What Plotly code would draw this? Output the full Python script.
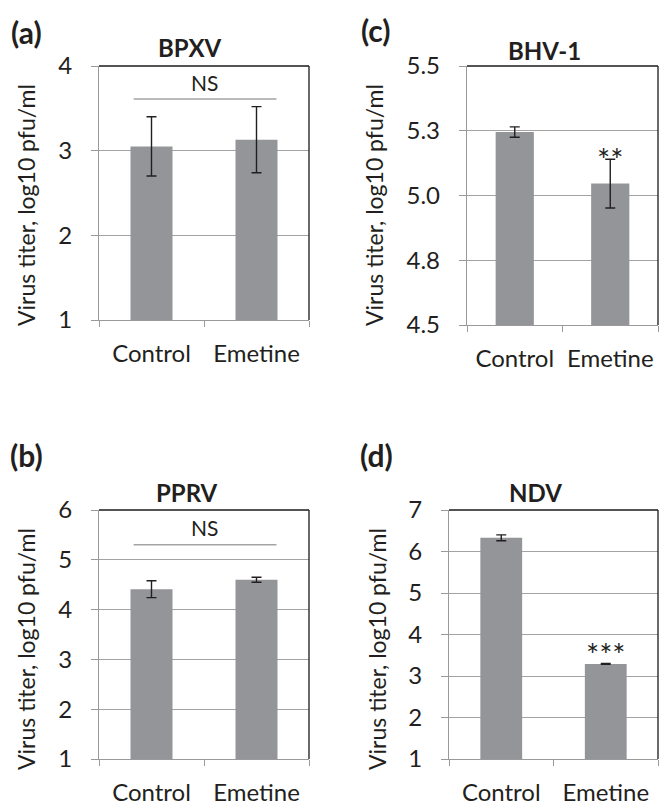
import plotly.graph_objects as go

# ---------------- data ----------------
categories = ["Control", "Emetine"]

bpxv_values = [3.05, 3.13]
bpxv_errors = [0.35, 0.39]

bhv_values = [5.245, 5.046]
bhv_errors = [0.02, 0.094]

pprv_values = [4.41, 4.60]
pprv_errors = [0.17, 0.05]

ndv_values = [6.33, 3.29]
ndv_errors = [0.07, 0.01]

bpxv_ticks = [1, 2, 3, 4]
bhv_ticks = [4.5, 4.75, 5.0, 5.25, 5.5]
bhv_ticklabels = ["4.5", "4.8", "5.0", "5.3", "5.5"]
pprv_ticks = [1, 2, 3, 4, 5, 6]
ndv_ticks = [1, 2, 3, 4, 5, 6, 7]

y_title = "Virus titer, log10 pfu/ml"

# ---------------- style ----------------
W, H = 659, 805
FONT = "Lato"
TXT = "#231f20"
BAR = "#939598"
GRID = "#a3a3a3"
AXIS = "#9a9a9a"


def xd(px):
    return px / W


def yd(px):
    return 1 - px / H


panels = [
    dict(name="BPXV", label="(a)", values=bpxv_values, errors=bpxv_errors,
         ticks=bpxv_ticks, ticktext=[str(t) for t in bpxv_ticks], yrange=[1, 4],
         box=(99, 309, 66, 320), ytitle_x=26, ytitle_y=205,
         title_xy=(189, 47), label_xy=(26, 32), ns=3.61, ns_text=3.81, star=None),
    dict(name="BHV-1", label="(c)", values=bhv_values, errors=bhv_errors,
         ticks=bhv_ticks, ticktext=bhv_ticklabels, yrange=[4.5, 5.5],
         box=(467, 658, 66, 325), ytitle_x=374, ytitle_y=205,
         title_xy=(544, 50), label_xy=(376, 30), ns=None, star=("**", 1, 5.14)),
    dict(name="PPRV", label="(b)", values=pprv_values, errors=pprv_errors,
         ticks=pprv_ticks, ticktext=[str(t) for t in pprv_ticks], yrange=[1, 6],
         box=(99, 309, 510, 759), ytitle_x=26, ytitle_y=649,
         title_xy=(187, 492), label_xy=(26, 455), ns=5.30, ns_text=5.64, star=None),
    dict(name="NDV", label="(d)", values=ndv_values, errors=ndv_errors,
         ticks=ndv_ticks, ticktext=[str(t) for t in ndv_ticks], yrange=[1, 7],
         box=(449, 658, 510, 759), ytitle_x=377, ytitle_y=649,
         title_xy=(535, 492), label_xy=(376, 455), ns=None, star=("***", 1, 3.52)),
]

fig = go.Figure()
annotations = []
shapes = []
layout = dict(
    width=W, height=H,
    margin=dict(l=0, r=0, t=0, b=0, autoexpand=False),
    paper_bgcolor="white", plot_bgcolor="white",
    showlegend=False, bargap=0.6,
    font=dict(family=FONT, color=TXT),
)

for i, p in enumerate(panels, start=1):
    sfx = "" if i == 1 else str(i)
    xa, ya = f"x{sfx}", f"y{sfx}"
    xk, yk = f"xaxis{sfx}", f"yaxis{sfx}"
    x0, x1, y0, y1 = p["box"]
    fig.add_trace(go.Bar(
        x=categories, y=p["values"], xaxis=xa, yaxis=ya,
        marker=dict(color=BAR, line=dict(width=0)),
        error_y=dict(type="data", array=p["errors"], color=TXT, thickness=1.4, width=5),
    ))
    layout[xk] = dict(
        domain=[xd(x0), xd(x1)], anchor=ya, type="category", range=[-0.5, 1.5],
        showline=True, linecolor=AXIS, linewidth=1.3, showgrid=False,
        ticks="outside", tickson="boundaries", ticklen=6, tickcolor=AXIS, tickwidth=1.3,
        tickfont=dict(family=FONT, size=24, color=TXT), ticklabelstandoff=12,
        tickangle=0, automargin=False, fixedrange=True,
    )
    layout[yk] = dict(
        domain=[yd(y1), yd(y0)], anchor=xa, range=p["yrange"],
        tickmode="array", tickvals=p["ticks"], ticktext=p["ticktext"],
        showgrid=True, gridcolor=GRID, gridwidth=1.3, zeroline=False,
        showline=True, linecolor=AXIS, linewidth=1.3,
        ticks="outside", ticklen=7, tickcolor=AXIS, tickwidth=1.3,
        tickfont=dict(family=FONT, size=24, color=TXT), ticklabelstandoff=14,
        automargin=False, fixedrange=True,
    )
    # dark top and right frame
    shapes.append(dict(type="line", xref=f"{xa} domain", yref=f"{ya} domain",
                       x0=0, x1=1, y0=1, y1=1, line=dict(color="#1a1a1a", width=1.3)))
    shapes.append(dict(type="line", xref=f"{xa} domain", yref=f"{ya} domain",
                       x0=1, x1=1, y0=0, y1=1, line=dict(color="#1a1a1a", width=1.3)))
    # titles
    annotations.append(dict(text=f"<b>{p['name']}</b>", xref="paper", yref="paper",
                            x=xd(p["title_xy"][0]), y=yd(p["title_xy"][1]),
                            xanchor="center", yanchor="middle", showarrow=False,
                            font=dict(family=FONT, size=24, color=TXT)))
    annotations.append(dict(text=f"<b>{p['label']}</b>", xref="paper", yref="paper",
                            x=xd(p["label_xy"][0]), y=yd(p["label_xy"][1]),
                            xanchor="center", yanchor="middle", showarrow=False,
                            font=dict(family=FONT, size=30, color=TXT)))
    annotations.append(dict(text=y_title, xref="paper", yref="paper",
                            x=xd(p["ytitle_x"]), y=yd(p["ytitle_y"]), textangle=-90,
                            xanchor="center", yanchor="middle", showarrow=False,
                            font=dict(family=FONT, size=23, color=TXT)))
    if p["ns"] is not None:
        shapes.append(dict(type="line", xref=xa, yref=ya, x0=-0.17, x1=1.19,
                           y0=p["ns"], y1=p["ns"], line=dict(color=GRID, width=1.5)))
        annotations.append(dict(text="NS", xref=xa, yref=ya, x=0.5, y=p["ns_text"],
                                xanchor="center", yanchor="middle", showarrow=False,
                                font=dict(family=FONT, size=21, color=TXT)))
    if p["star"] is not None:
        s, sx, sy = p["star"]
        annotations.append(dict(text=s, xref=xa, yref=ya, x=sx, y=sy,
                                xanchor="center", yanchor="middle", showarrow=False,
                                font=dict(family=FONT, size=31, color=TXT)))

layout["annotations"] = annotations
layout["shapes"] = shapes
fig.update_layout(**layout)
fig.write_html("out.html")
